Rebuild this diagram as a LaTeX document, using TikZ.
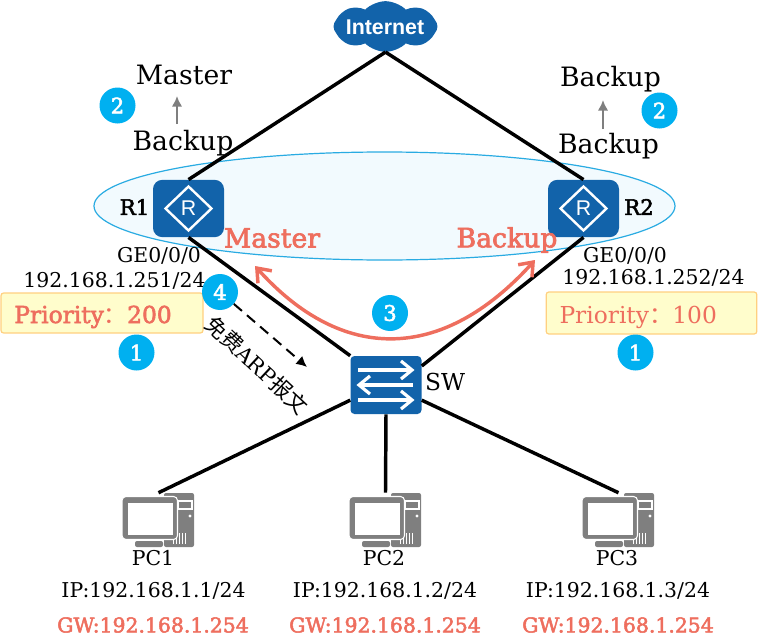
\documentclass[tikz,border=0pt]{standalone}
\usepackage{fontspec}
\setmainfont{DejaVu Serif}
\newfontfamily\cjk{Noto Sans CJK SC}
\newfontfamily\fakebold[FakeBold=2.5]{DejaVu Serif}
\newfontfamily\iconfont{Liberation Sans}
\usetikzlibrary{shapes,shapes.symbols,arrows.meta,positioning}
\definecolor{hwblue}{HTML}{1263AA}
\definecolor{stepblue}{HTML}{00B0F0}
\definecolor{hwred}{HTML}{EE6E5E}
\definecolor{pcgrey}{HTML}{7F7F7F}
\definecolor{vgline}{HTML}{29ABE2}
\definecolor{vgfill}{HTML}{F2FAFE}
\definecolor{boxline}{HTML}{FFD080}
\definecolor{boxfill}{HTML}{FFFDCC}
\tikzset{
    routernode/.style={fill=hwblue, rounded corners=7pt, minimum width=53.25pt, minimum height=43pt, inner sep=0pt},
    switchnode/.style={fill=hwblue, rounded corners=3pt, minimum width=53.25pt, minimum height=43.5pt, inner sep=0pt},
    pcnode/.style={minimum width=53.25pt, minimum height=40.5pt, inner sep=0pt},
    stepnum/.style={circle, fill=stepblue, text=white, minimum size=27pt, inner sep=0pt, font=\fontsize{16pt}{18pt}\fakebold},
    link/.style={line width=2.6pt, black},
    label/.style={inner sep=0pt, font=\fontsize{15.3pt}{18pt}\selectfont},
    state/.style={inner sep=0pt, font=\fontsize{20pt}{24pt}\selectfont},
    redstate/.style={inner sep=0pt, text=hwred, font=\fontsize{20pt}{24pt}\fakebold},
    gateway/.style={inner sep=0pt, text=hwred, font=\fontsize{15.3pt}{18pt}\fakebold},
    prioritybox/.style={draw=boxline, fill=boxfill, rounded corners=2pt, line width=0.9pt, text=hwred,
        inner xsep=10pt, inner ysep=0pt, minimum height=#1, align=left, text height=19pt, text depth=4pt},
    greyarrow/.style={-{Latex[length=8pt,width=8pt]}, pcgrey, line width=1.9pt},
    routericon/.pic={
        \draw[white, line width=1.8pt] (0,-22) -- (23,0) -- (0,22) -- (-23,0) -- cycle;
        \node[text=white, inner sep=0pt, font=\fontsize{16pt}{18pt}\iconfont] (-rtext) at (0,0) {R};
    },
    switchicon/.pic={
        \foreach \y in {-15,15} {
            \draw[white, line width=2.4pt] (-28,\y) -- (26,\y);
            \draw[white, line width=2.4pt] (15,\y-9) -- (26,\y) -- (15,\y+9);
        }
        \draw[white, line width=2.4pt] (27,0) -- (-27,0);
        \draw[white, line width=2.4pt] (-16,-9) -- (-27,0) -- (-16,9);
    },
    pcicon/.pic={
        \fill[pcgrey, rounded corners=1.5pt] (5.5,-27) rectangle (35.5,27);
        \draw[white, line width=0.8pt, fill=pcgrey] (19.5,-19) rectangle (33.5,-11);
        \fill[white] (31.5,-4) circle (1.7);
        \foreach \x in {15,18,...,29} \draw[white, line width=0.7pt] (\x,13) -- (\x,24);
        \fill[pcgrey, rounded corners=1.5pt] (-23.5,21) rectangle (4.5,27);
        \draw[white, line width=0.8pt, fill=pcgrey, rounded corners=3pt] (-36.5,-23.5) rectangle (19,19.5);
        \fill[white] (-30.5,-17) rectangle (14.5,15);
    }
}
\begin{document}
\begin{tikzpicture}[x=0.75pt, y=-0.75pt]
    \useasboundingbox (0,0) rectangle (758,639);

    % virtual group
    \node[ellipse, draw=vgline, fill=vgfill, line width=0.9pt, minimum width=435.75pt, minimum height=81pt, inner sep=0pt] (vgroup) at (384.5,206) {};

    % devices
    \node[cloud, cloud puffs=8, cloud puff arc=90, aspect=2.3, fill=hwblue, inner sep=0pt, minimum width=78pt, minimum height=38pt] (internet) at (385.5,26.5) {};
    \node[text=white, inner sep=0pt, font=\fontsize{16pt}{18pt}\iconfont\bfseries] (internettext) at (385,27) {Internet};
    \node[routernode] (r1) at (188.5,208.5) {};
    \node[routernode] (r2) at (583.5,208.5) {};
    \node[switchnode] (sw) at (386,385) {};
    \node[pcnode] (pc1) at (158.5,520) {};
    \node[pcnode] (pc2) at (385.5,520) {};
    \node[pcnode] (pc3) at (618.5,520) {};
    \pic at (r1) {routericon};
    \pic at (r2) {routericon};
    \pic at (sw) {switchicon};
    \pic at (pc1) {pcicon};
    \pic at (pc2) {pcicon};
    \pic at (pc3) {pcicon};

    % links
    \draw[link] (internet.south) -- (r1.north);
    \draw[link] (internet.south) -- (r2.north);
    \draw[link] (r1.south) -- (sw.north west);
    \draw[link] (r2.south) -- (sw.28);
    \draw[link] (sw.203) -- (pc1.north);
    \draw[link] (sw.south) -- (pc2.north);
    \draw[link] (sw.337) -- (pc3.north);

    % device labels
    \node[label, font=\fontsize{16pt}{18pt}\fakebold] (r1name) at (134.5,207) {R1};
    \node[label, font=\fontsize{16pt}{18pt}\fakebold] (r2name) at (639,207) {R2};
    \node[label, font=\fontsize{17.5pt}{20pt}\selectfont] (swname) at (445,382) {SW};
    \node[label] (ge1) at (159,256) {GE0/0/0};
    \node[label] (ip1) at (114.5,281) {192.168.1.251/24};
    \node[label] (ge2) at (625,256) {GE0/0/0};
    \node[label] (ip2) at (653.5,278) {192.168.1.252/24};

    % state changes
    \node[state] (r1new) at (184,75) {Master};
    \node[state] (r1old) at (183,143) {Backup};
    \node[state] (r2new) at (610.5,79) {Backup};
    \node[state] (r2old) at (608.5,146) {Backup};
    \coordinate (r1from) at (177,124);
    \coordinate (r1to) at (177,96);
    \coordinate (r2from) at (603,129);
    \coordinate (r2to) at (603,100);
    \draw[greyarrow] (r1from) -- (r1to);
    \draw[greyarrow] (r2from) -- (r2to);
    \node[redstate] (r1role) at (272,238) {Master};
    \node[redstate] (r2role) at (507,240) {Backup};

    % priorities
    \node[prioritybox=30pt, text width=131.5pt, font=\fontsize{17.5pt}{20pt}\fakebold] (prio1) at (102,313) {Priority\smash{\cjk：}200};
    \node[prioritybox=31.5pt, text width=138pt, font=\fontsize{17.5pt}{20pt}\selectfont] (prio2) at (651.5,313) {Priority\smash{\cjk：}100};

    % hosts
    \node[label] (pc1name) at (153,558) {PC1};
    \node[label] (pc2name) at (384,558) {PC2};
    \node[label] (pc3name) at (617,558) {PC3};
    \node[label] (pc1ip) at (153.5,591) {IP:192.168.1.1/24};
    \node[label] (pc2ip) at (385,591) {IP:192.168.1.2/24};
    \node[label] (pc3ip) at (618,591) {IP:192.168.1.3/24};
    \node[gateway] (pc1gw) at (153,625) {GW:192.168.1.254};
    \node[gateway] (pc2gw) at (385,625) {GW:192.168.1.254};
    \node[gateway] (pc3gw) at (618,625) {GW:192.168.1.254};

    % vrrp and arp
    \coordinate (hbleft) at (255,266);
    \coordinate (hbright) at (535,260);
    \coordinate (arpend) at (307,367);
    \draw[{Straight Barb[length=9pt,width=14pt]}-{Straight Barb[length=9pt,width=14pt]}, hwred, line width=2.6pt] (hbleft) .. controls (342,363) and (442,363) .. (hbright);
    \node[stepnum] (s4) at (220,292) {4};
    \draw[-{Latex[length=8pt,width=8pt]}, dash pattern=on 8pt off 5pt, line width=1.5pt] (s4) -- (arpend);
    \node[inner sep=0pt, rotate=-43, font=\fontsize{16pt}{18pt}\selectfont] (arptext) at (257,365) {{\cjk 免费}ARP{\cjk 报文}};

    \node[stepnum] (s2a) at (117.5,105.5) {2};
    \node[stepnum] (s2b) at (659.5,110.5) {2};
    \node[stepnum] (s3) at (390,313) {3};
    \node[stepnum] (s1a) at (136.5,352.5) {1};
    \node[stepnum] (s1b) at (635.5,352.5) {1};
\end{tikzpicture}
\end{document}
